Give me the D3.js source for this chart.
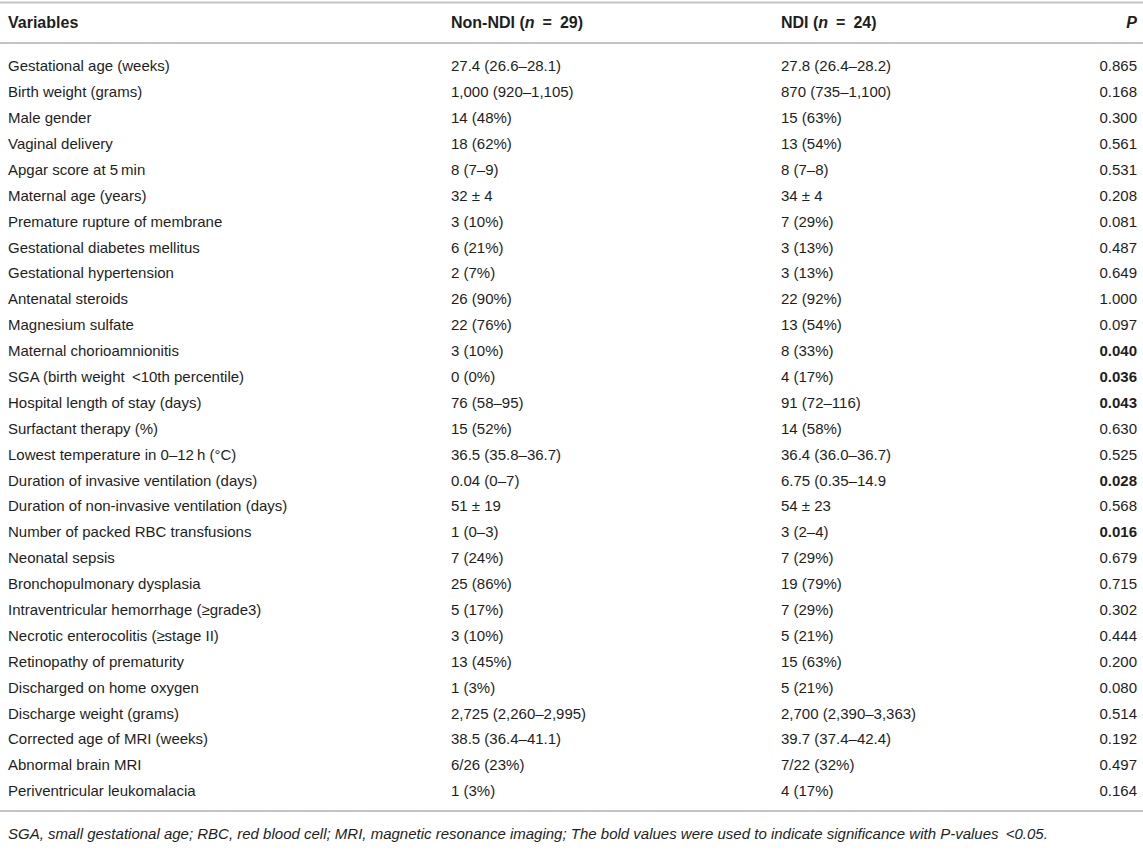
<!DOCTYPE html>
<html>
<head>
<meta charset="utf-8">
<script src="https://cdn.jsdelivr.net/npm/d3@7"></script>
<style>
  html, body { margin: 0; padding: 0; background: #fff; }
  svg { display: block; font-family: "Liberation Sans", Arial, Helvetica, sans-serif; }
</style>
</head>
<body>
<svg id="viz" width="1143" height="854"></svg>
<script>
// table content
var variables = [
  'Gestational age (weeks)',
  'Birth weight (grams)',
  'Male gender',
  'Vaginal delivery',
  'Apgar score at 5\u2009min',
  'Maternal age (years)',
  'Premature rupture of membrane',
  'Gestational diabetes mellitus',
  'Gestational hypertension',
  'Antenatal steroids',
  'Magnesium sulfate',
  'Maternal chorioamnionitis',
  'SGA (birth weight \u2009<10th percentile)',
  'Hospital length of stay (days)',
  'Surfactant therapy (%)',
  'Lowest temperature in 0\u201312\u2009h (\u00b0C)',
  'Duration of invasive ventilation (days)',
  'Duration of non-invasive ventilation (days)',
  'Number of packed RBC transfusions',
  'Neonatal sepsis',
  'Bronchopulmonary dysplasia',
  'Intraventricular hemorrhage (\u2265grade3)',
  'Necrotic enterocolitis (\u2265stage II)',
  'Retinopathy of prematurity',
  'Discharged on home oxygen',
  'Discharge weight (grams)',
  'Corrected age of MRI (weeks)',
  'Abnormal brain MRI',
  'Periventricular leukomalacia'
];

var nonNdi = [
  '27.4 (26.6\u201328.1)', '1,000 (920\u20131,105)', '14 (48%)', '18 (62%)', '8 (7\u20139)',
  '32 \u00b1 4', '3 (10%)', '6 (21%)', '2 (7%)', '26 (90%)', '22 (76%)', '3 (10%)',
  '0 (0%)', '76 (58\u201395)', '15 (52%)', '36.5 (35.8\u201336.7)', '0.04 (0\u20137)',
  '51 \u00b1 19', '1 (0\u20133)', '7 (24%)', '25 (86%)', '5 (17%)', '3 (10%)', '13 (45%)',
  '1 (3%)', '2,725 (2,260\u20132,995)', '38.5 (36.4\u201341.1)', '6/26 (23%)', '1 (3%)'
];

var ndi = [
  '27.8 (26.4\u201328.2)', '870 (735\u20131,100)', '15 (63%)', '13 (54%)', '8 (7\u20138)',
  '34 \u00b1 4', '7 (29%)', '3 (13%)', '3 (13%)', '22 (92%)', '13 (54%)', '8 (33%)',
  '4 (17%)', '91 (72\u2013116)', '14 (58%)', '36.4 (36.0\u201336.7)', '6.75 (0.35\u201314.9',
  '54 \u00b1 23', '3 (2\u20134)', '7 (29%)', '19 (79%)', '7 (29%)', '5 (21%)', '15 (63%)',
  '5 (21%)', '2,700 (2,390\u20133,363)', '39.7 (37.4\u201342.4)', '7/22 (32%)', '4 (17%)'
];

var pValues = [
  '0.865', '0.168', '0.300', '0.561', '0.531', '0.208', '0.081', '0.487', '0.649',
  '1.000', '0.097', '0.040', '0.036', '0.043', '0.630', '0.525', '0.028', '0.568',
  '0.016', '0.679', '0.715', '0.302', '0.444', '0.200', '0.080', '0.514', '0.192',
  '0.497', '0.164'
];

var footnote = 'SGA, small gestational age; RBC, red blood cell; MRI, magnetic resonance imaging; ' +
  'The bold values were used to indicate significance with P-values \u2009<0.05.';

var alpha = 0.05;

///////////////////////////////////////////////////////////////////////////////
// LAYOUT

var width = 1143;
var ruleColor = '#c4c4c4';
var textColor = '#1e1e1e';
var fontSize = 15;
var headerSize = 16;

var svg = d3.select('#viz');

var rows = variables.map(function(v, i) {
  return {variable: v, nonNdi: nonNdi[i], ndi: ndi[i], p: pValues[i]};
});

// one point per row, centred on the text
var y = d3.scalePoint()
  .domain(d3.range(rows.length))
  .range([66, 791]);

// left edges of the columns (right edge for P)
var x = d3.scaleOrdinal()
  .domain(['variable', 'nonNdi', 'ndi', 'p'])
  .range([8, 451, 781, 1137]);

// horizontal rules
[2.5, 43, 811].forEach(function(ry) {
  svg.append('line')
    .attr('x1', 0)
    .attr('x2', width)
    .attr('y1', ry)
    .attr('y2', ry)
    .style('stroke', ruleColor)
    .style('stroke-width', '2px');
});

// header
var header = svg.append('g')
  .attr('class', 'header')
  .style('font-weight', 'bold')
  .style('font-size', headerSize + 'px')
  .style('fill', textColor);

header.append('text')
  .attr('x', x('variable'))
  .attr('y', 22)
  .attr('dy', '0.35em')
  .text('Variables');

function groupHeader(col, label, n) {
  var t = header.append('text')
    .attr('x', x(col))
    .attr('y', 22)
    .attr('dy', '0.35em');
  t.append('tspan').text(label + ' (');
  t.append('tspan').style('font-style', 'italic').text('n');
  t.append('tspan').text('\u2002=\u2002' + n + ')');
}
groupHeader('nonNdi', 'Non-NDI', 29);
groupHeader('ndi', 'NDI', 24);

header.append('text')
  .attr('x', x('p'))
  .attr('y', 22)
  .attr('dy', '0.35em')
  .attr('text-anchor', 'end')
  .style('font-style', 'italic')
  .text('P');

// body rows
var body = svg.append('g')
  .attr('class', 'body')
  .style('font-size', fontSize + 'px')
  .style('fill', textColor);

var row = body.selectAll('g.row')
  .data(rows)
  .enter()
  .append('g')
  .attr('class', 'row')
  .attr('transform', function(d, i) { return 'translate(0,' + y(i) + ')'; });

['variable', 'nonNdi', 'ndi'].forEach(function(col) {
  row.append('text')
    .attr('x', x(col))
    .attr('dy', '0.35em')
    .text(function(d) { return d[col]; });
});

row.append('text')
  .attr('x', x('p'))
  .attr('dy', '0.35em')
  .attr('text-anchor', 'end')
  .style('font-weight', function(d) { return +d.p < alpha ? 'bold' : 'normal'; })
  .text(function(d) { return d.p; });

// footnote
svg.append('text')
  .attr('x', 8)
  .attr('y', 834)
  .attr('dy', '0.35em')
  .style('font-size', '15px')
  .style('font-style', 'italic')
  .style('fill', textColor)
  .text(footnote);
</script>
</body>
</html>
